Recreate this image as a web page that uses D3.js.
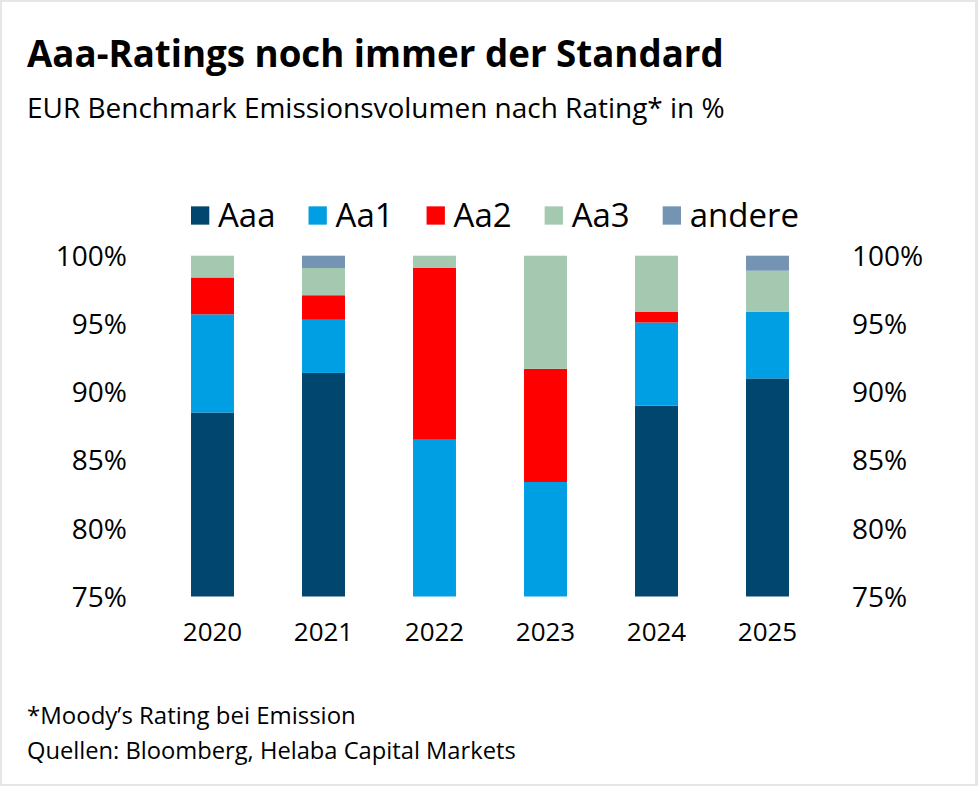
<!DOCTYPE html>
<html>
<head>
<meta charset="utf-8">
<script src="https://cdn.jsdelivr.net/npm/d3@7/dist/d3.min.js"></script>
<style>
  html, body { margin: 0; padding: 0; background: #fff; }
  svg { display: block; }
  text { font-family: "Open Sans", "Noto Sans", sans-serif; fill: #000; }
</style>
</head>
<body>
<svg id="chart" width="978" height="786"></svg>
<script>
// ---- data ----
const years = ["2020", "2021", "2022", "2023", "2024", "2025"];
const ratings = ["Aaa", "Aa1", "Aa2", "Aa3", "andere"];
const aaa    = [88.5, 91.4, 0.0, 0.0, 89.0, 91.0];
const aa1    = [7.2, 3.9, 86.5, 83.4, 6.1, 4.9];
const aa2    = [2.7, 1.8, 12.6, 8.3, 0.8, 0.0];
const aa3    = [1.6, 2.0, 0.9, 8.3, 4.1, 3.0];
const andere = [0.0, 0.9, 0.0, 0.0, 0.0, 1.1];
const yTicks = [0.75, 0.80, 0.85, 0.90, 0.95, 1.00];
const title = "Aaa-Ratings noch immer der Standard";
const subtitle = "EUR Benchmark Emissionsvolumen nach Rating* in %";
const notes = ["*Moody\u2019s Rating bei Emission", "Quellen: Bloomberg, Helaba Capital Markets"];

const colors = {Aaa: "#00466F", Aa1: "#009FE3", Aa2: "#FF0000", Aa3: "#A4C9B0", andere: "#7593B3"};

const seriesVals = {Aaa: aaa, Aa1: aa1, Aa2: aa2, Aa3: aa3, andere: andere};
const rows = years.map((yr, i) => {
  const r = {year: yr};
  ratings.forEach(k => r[k] = seriesVals[k][i] / 100);
  return r;
});

const svg = d3.select("#chart");
const W = 978, H = 786;

// frame
svg.append("rect").attr("x", 0).attr("y", 0).attr("width", W).attr("height", H).attr("fill", "#e6e6e6");
svg.append("rect").attr("x", 2).attr("y", 2).attr("width", W - 5).attr("height", H - 4).attr("fill", "#fff");

function fitText(sel, targetW, startSize) {
  sel.style("font-size", startSize + "px");
  const w = sel.node().getComputedTextLength();
  sel.style("font-size", (startSize * targetW / w) + "px");
}

// titles
const t = svg.append("text").attr("x", 27).attr("y", 67).attr("font-weight", 700).text(title);
fitText(t, 697, 36);
const st = svg.append("text").attr("x", 27).attr("y", 118).text(subtitle);
fitText(st, 698, 25);

// scales
const x = d3.scaleBand().domain(years).range([157, 823]).paddingInner(0.613).paddingOuter(0.3065);
const y = d3.scaleLinear().domain([0.75, 1.0]).range([596.5, 255.7]);

// clip
svg.append("defs").append("clipPath").attr("id", "plotclip")
  .append("rect").attr("x", 0).attr("y", y(1.0) - 1).attr("width", W).attr("height", y(0.75) - y(1.0) + 1);

const stack = d3.stack().keys(ratings)(rows);
const g = svg.append("g").attr("clip-path", "url(#plotclip)");
g.selectAll("g.series").data(stack).join("g")
  .attr("class", "series")
  .attr("fill", d => colors[d.key])
  .selectAll("rect").data(d => d).join("rect")
  .attr("x", d => x(d.data.year))
  .attr("width", x.bandwidth())
  .attr("y", d => y(Math.min(d[1], 1.0)))
  .attr("height", d => Math.max(0, y(d[0]) - y(Math.min(d[1], 1.0))));

// axes
const fmt = d3.format(".0%");
const yl = svg.append("g").attr("transform", "translate(127,0)")
  .call(d3.axisLeft(y).tickValues(yTicks).tickFormat(fmt).tickSize(0).tickPadding(0));
const yr = svg.append("g").attr("transform", "translate(852,0)")
  .call(d3.axisRight(y).tickValues(yTicks).tickFormat(fmt).tickSize(0).tickPadding(0));
[yl, yr].forEach(a => {
  a.select(".domain").remove();
  a.selectAll("text").style("font-family", '"Open Sans", "Noto Sans", sans-serif')
    .style("font-size", "28px").attr("fill", "#000").attr("dy", "0.35em");
});

const xa = svg.append("g").attr("transform", "translate(0,611)")
  .call(d3.axisBottom(x).tickSize(0).tickPadding(0));
xa.select(".domain").remove();
xa.selectAll("text").style("font-family", '"Open Sans", "Noto Sans", sans-serif')
  .style("font-size", "26px").attr("fill", "#000").attr("dy", "1.15em").attr("y", 0);

// legend (flow layout, spread between start and end)
const ly = 215.5, sq = 18.3, lStart = 191, lEnd = 799, txtOff = 27;
const items = ratings.map(k => {
  const gi = svg.append("g");
  gi.append("rect").attr("y", ly - sq / 2).attr("width", sq).attr("height", sq).attr("fill", colors[k]);
  const tx = gi.append("text").attr("x", txtOff).attr("y", ly).attr("dy", "0.36em")
    .style("font-size", "33px").text(k);
  return {g: gi, w: txtOff + tx.node().getComputedTextLength()};
});
const totalW = d3.sum(items, d => d.w);
const gap = (lEnd - lStart - totalW) / (items.length - 1);
let lx = lStart;
items.forEach(it => { it.g.attr("transform", `translate(${lx},0)`); lx += it.w + gap; });

// notes
const n1 = svg.append("text").attr("x", 27).attr("y", 724).text(notes[0]);
fitText(n1, 329, 23);
const n2 = svg.append("text").attr("x", 27).attr("y", 759).text(notes[1]);
fitText(n2, 489, 23);
</script>
</body>
</html>
